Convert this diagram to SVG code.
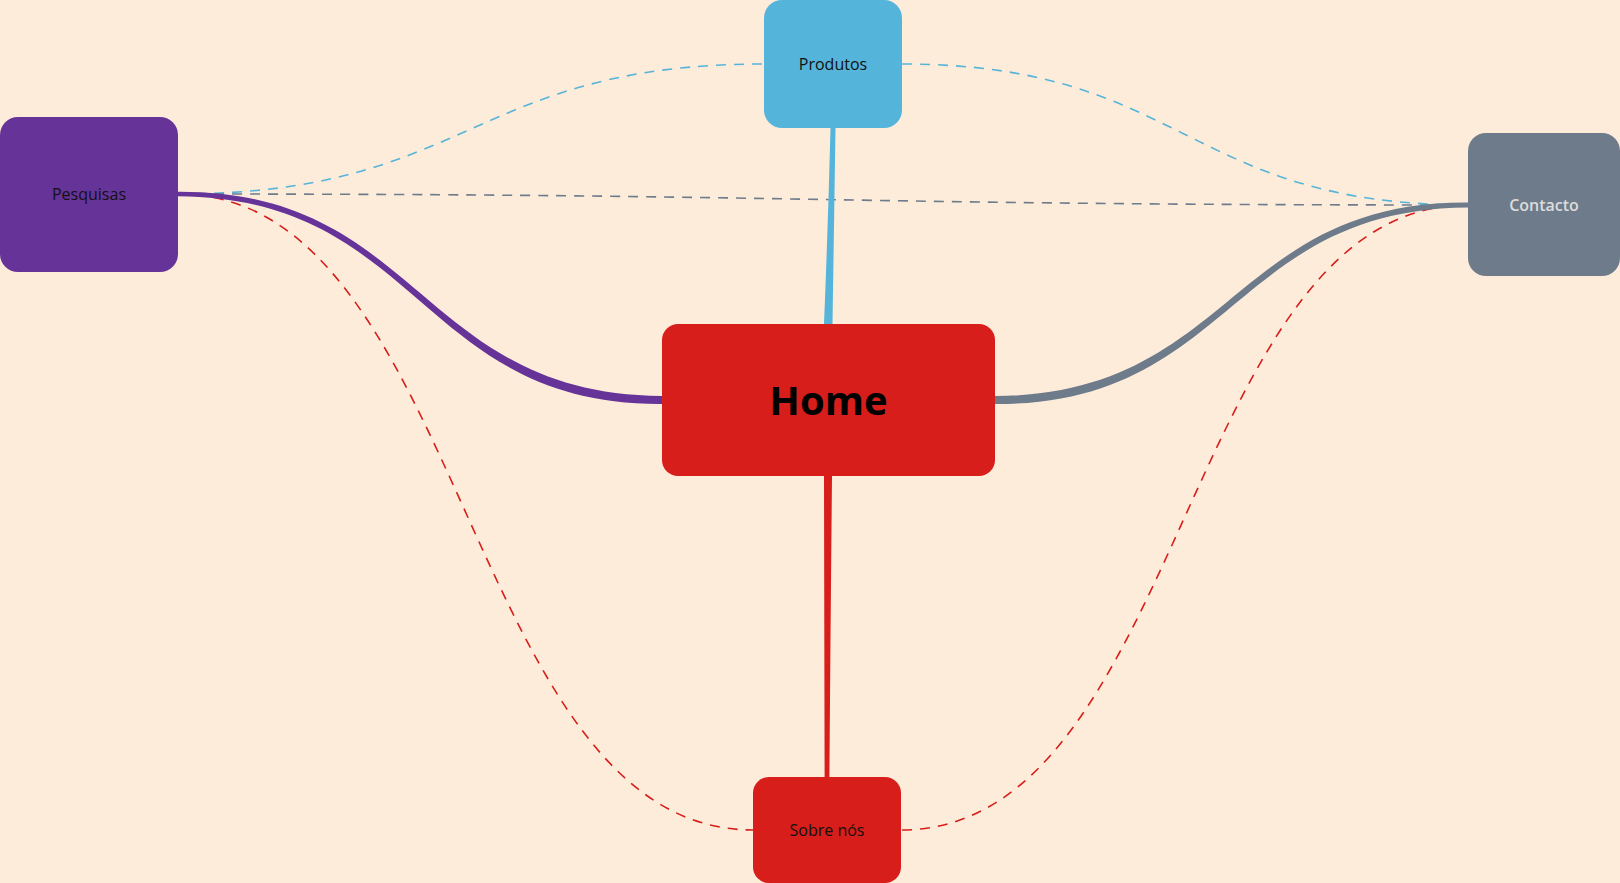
<svg xmlns="http://www.w3.org/2000/svg" width="1620" height="883" viewBox="0 0 1620 883">
<style>
.dash{fill:none;stroke-width:1.6;stroke-dasharray:10 8}
.lbl{font-family:"Open Sans","Noto Sans","Liberation Sans",sans-serif;font-size:16px;text-anchor:middle;fill:#111}
</style>
<rect x="0" y="0" width="1620" height="883" fill="#FEECDA"/>
<g id="connectors">
  <path class="dash" stroke="#55B4DA" d="M178,194 C471,194 471,64 764,64"/>
  <path class="dash" stroke="#6E7B8B" stroke-width="2" d="M178,194 C823,194 823,205 1468,205"/>
  <path class="dash" stroke="#D71E1A" d="M178,194 C465.5,194 465.5,830 753,830"/>
  <path class="dash" stroke="#55B4DA" d="M902,64 C1185,64 1185,205 1468,205"/>
  <path class="dash" stroke="#D71E1A" d="M1468,205 C1184.5,205 1184.5,830 901,830"/>
  <path fill="#663399" d="M178,191.7 C420,190.4 420,394.8 662,396 L662,404 C420,405.2 420,197.6 178,196.3 Z"/>
  <path fill="#6E7B8B" d="M995,396 C1231.5,395 1231.5,201 1468,202.5 L1468,207.5 C1231.5,209 1231.5,405 995,404 Z"/>
  <path fill="#55B4DA" d="M824,324 Q828,226 830.5,128 L835.5,128 Q834,226 832.5,324 Z"/>
  <path fill="#D71E1A" d="M824,476 Q824.3,626 824.6,777 L829.4,777 Q830.5,626 832,476 Z"/>
</g>
<g id="node-home">
  <rect x="662" y="324" width="333" height="152" rx="16" fill="#D71E1A"/>
  <text x="828.5" y="415" font-family="'Open Sans','Noto Sans','Liberation Sans',sans-serif" font-size="40" font-weight="bold" text-anchor="middle" fill="#000">Home</text>
</g>
<g id="node-produtos">
  <rect x="764" y="0" width="138" height="128" rx="18" fill="#55B4DA"/>
  <text class="lbl" x="833" y="70">Produtos</text>
</g>
<g id="node-pesquisas">
  <rect x="0" y="117" width="178" height="155" rx="18" fill="#663399"/>
  <text class="lbl" x="89" y="200">Pesquisas</text>
</g>
<g id="node-contacto">
  <rect x="1468" y="133" width="152" height="143" rx="18" fill="#6E7B8B"/>
  <text class="lbl" x="1544" y="210.5" font-weight="600" style="fill:#DCDCDC">Contacto</text>
</g>
<g id="node-sobre">
  <rect x="753" y="777" width="148" height="106" rx="16" fill="#D71E1A"/>
  <text class="lbl" x="827" y="835.5">Sobre nós</text>
</g>
</svg>
